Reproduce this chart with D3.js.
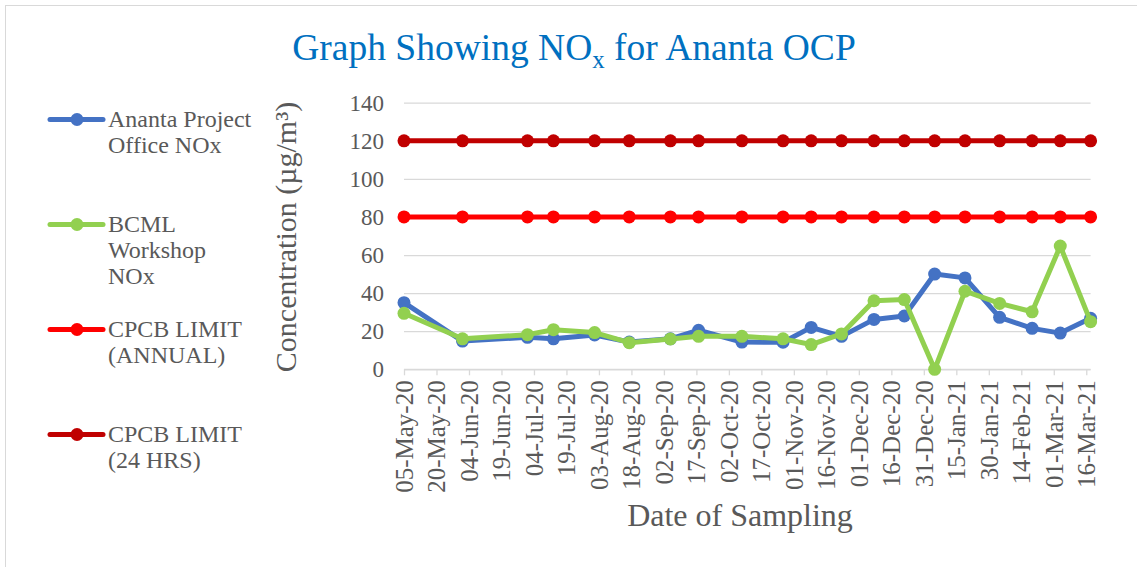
<!DOCTYPE html>
<html>
<head>
<meta charset="utf-8">
<script src="https://cdn.jsdelivr.net/npm/d3@7"></script>
<style>
  body { margin: 0; background: #fff; }
  svg text { font-family: "Liberation Serif", "Times New Roman", serif; }
</style>
</head>
<body>
<div id="chart"></div>
<script>
// Sampling dates and series values (µg/m³)
const sampleDates = ["2020-05-05", "2020-06-01", "2020-07-01", "2020-07-13", "2020-08-01",
    "2020-08-17", "2020-09-05", "2020-09-18", "2020-10-08", "2020-10-27",
    "2020-11-09", "2020-11-23", "2020-12-08", "2020-12-22", "2021-01-05",
    "2021-01-19", "2021-02-04", "2021-02-19", "2021-03-04", "2021-03-18"];
const anantaOffice = [35, 14.8, 16.8, 16, 18, 14.3, 16, 20.5, 14.3, 14.2,
    22, 17.3, 26.2, 28, 50, 48, 27.3, 21.5, 19, 26.8];
const bcmlWorkshop = [29.4, 16, 18.2, 20.8, 19.3, 14, 15.9, 17.3, 17.3, 16,
    13, 18.6, 36, 36.6, 0, 41, 34.6, 30.2, 64.7, 25];
const annualLimit = 80;
const dailyLimit = 120;

const xTickLabels = ["05-May-20", "20-May-20", "04-Jun-20", "19-Jun-20", "04-Jul-20", "19-Jul-20",
    "03-Aug-20", "18-Aug-20", "02-Sep-20", "17-Sep-20", "02-Oct-20", "17-Oct-20",
    "01-Nov-20", "16-Nov-20", "01-Dec-20", "16-Dec-20", "31-Dec-20", "15-Jan-21",
    "30-Jan-21", "14-Feb-21", "01-Mar-21", "16-Mar-21"];
const yTicks = [0, 20, 40, 60, 80, 100, 120, 140];

const seriesNames = [
    ["Ananta Project", "Office NOx"],
    ["BCML", "Workshop", "NOx"],
    ["CPCB LIMIT", "(ANNUAL)"],
    ["CPCB LIMIT", "(24 HRS)"]
];
const seriesColors = ["#4472C4", "#92D050", "#FF0000", "#C00000"];

const parseDate = d3.utcParse("%Y-%m-%d");
const parseTick = d3.utcParse("%d-%b-%y");
const dates = sampleDates.map(parseDate);

const series = [
    anantaOffice,
    bcmlWorkshop,
    dates.map(() => annualLimit),
    dates.map(() => dailyLimit)
];

const W = 1137, H = 567;
const plot = { left: 404, right: 1090.6, top: 102.7, bottom: 369.3 };

const svg = d3.select("#chart")
    .append("svg")
    .attr("width", W)
    .attr("height", H);

// outer chart border (cropped on right/bottom)
svg.append("rect")
    .attr("x", 5.5).attr("y", 5.5)
    .attr("width", W + 20).attr("height", H + 20)
    .attr("fill", "#fff")
    .attr("stroke", "#d9d9d9");

const x = d3.scaleUtc()
    .domain(d3.extent(dates))
    .range([plot.left, plot.right]);

const y = d3.scaleLinear()
    .domain([0, 140])
    .range([plot.bottom, plot.top]);

// Gridlines + y labels
const yAxis = svg.append("g")
    .attr("transform", `translate(${plot.left},0)`)
    .call(d3.axisLeft(y).tickValues(yTicks).tickSize(-(plot.right - plot.left)).tickPadding(20));
yAxis.select(".domain").remove();
yAxis.selectAll(".tick line").attr("stroke", "#d9d9d9").attr("stroke-width", 1.3);
yAxis.selectAll(".tick text")
    .attr("fill", "#595959")
    .style("font-size", "23px")
    .attr("x", -20);

// X axis
const xAxis = svg.append("g")
    .attr("transform", `translate(0,${plot.bottom})`)
    .call(d3.axisBottom(x)
        .tickValues(xTickLabels.map(parseTick))
        .tickFormat(d3.utcFormat("%d-%b-%y"))
        .tickSize(6)
        .tickSizeOuter(0));
xAxis.select(".domain").attr("stroke", "#d9d9d9").attr("stroke-width", 1.3)
    .attr("d", `M${plot.left},0H${plot.right}`);
xAxis.selectAll(".tick line").attr("stroke", "#d9d9d9").attr("stroke-width", 1.3);
xAxis.selectAll(".tick text")
    .attr("fill", "#595959")
    .style("font-size", "25px")
    .attr("text-anchor", "end")
    .attr("transform", "rotate(-90)")
    .attr("x", -11)
    .attr("y", 0)
    .attr("dy", "0.33em");

// Lines and markers
const line = d3.line()
    .x((d, i) => x(dates[i]))
    .y(d => y(d));

series.forEach((vals, s) => {
    const g = svg.append("g");
    g.append("path")
        .attr("d", line(vals))
        .attr("fill", "none")
        .attr("stroke", seriesColors[s])
        .attr("stroke-width", 5)
        .attr("stroke-linejoin", "round");
    g.selectAll("circle")
        .data(vals)
        .enter()
        .append("circle")
        .attr("cx", (d, i) => x(dates[i]))
        .attr("cy", d => y(d))
        .attr("r", 6.5)
        .attr("fill", seriesColors[s]);
});

// Title
const title = svg.append("text")
    .attr("x", 574)
    .attr("y", 60)
    .attr("text-anchor", "middle")
    .attr("fill", "#0070C0")
    .style("font-size", "37.5px");
title.append("tspan").text("Graph Showing NO");
title.append("tspan").attr("dy", 8).style("font-size", "25px").text("x");
title.append("tspan").attr("dy", -8).text(" for Ananta OCP");

// Axis titles
svg.append("text")
    .attr("transform", "translate(296,237) rotate(-90)")
    .attr("text-anchor", "middle")
    .attr("fill", "#595959")
    .style("font-size", "30px")
    .text("Concentration (µg/m³)");

svg.append("text")
    .attr("x", 740)
    .attr("y", 526)
    .attr("text-anchor", "middle")
    .attr("fill", "#595959")
    .style("font-size", "32px")
    .text("Date of Sampling");

// Legend
const legendBaselines = [127, 232, 337, 442];
seriesNames.forEach((lines, s) => {
    const ly = legendBaselines[s] - 7.5;
    const g = svg.append("g");
    g.append("line")
        .attr("x1", 50).attr("x2", 103)
        .attr("y1", ly).attr("y2", ly)
        .attr("stroke", seriesColors[s])
        .attr("stroke-width", 5)
        .attr("stroke-linecap", "round");
    g.append("circle")
        .attr("cx", 77).attr("cy", ly).attr("r", 6.5)
        .attr("fill", seriesColors[s]);
    const t = g.append("text")
        .attr("x", 108)
        .attr("y", legendBaselines[s])
        .attr("fill", "#595959")
        .style("font-size", "24px");
    lines.forEach((txt, k) => {
        t.append("tspan")
            .attr("x", 108)
            .attr("dy", k === 0 ? 0 : 26)
            .text(txt);
    });
});
</script>
</body>
</html>
